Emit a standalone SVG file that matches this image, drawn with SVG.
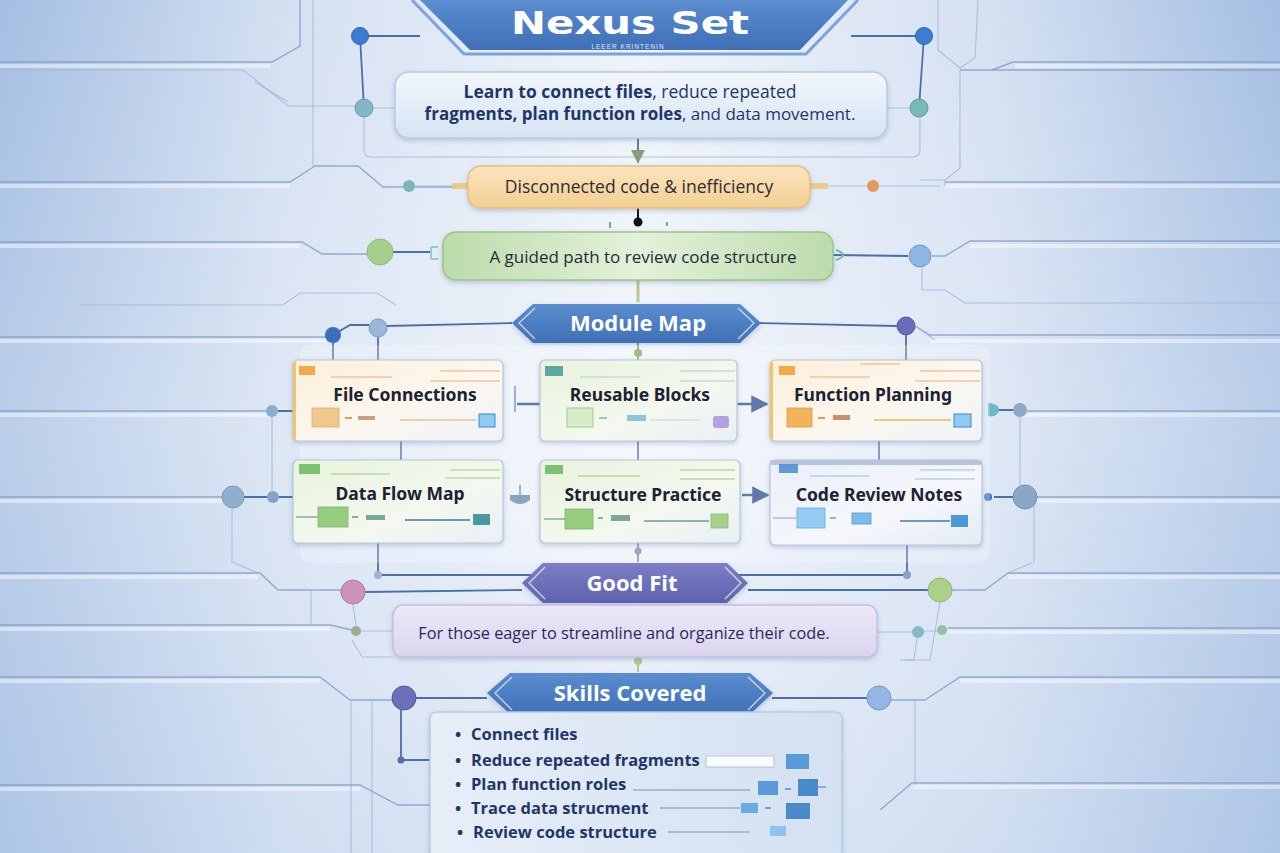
<svg xmlns="http://www.w3.org/2000/svg" width="1280" height="853" viewBox="0 0 1280 853">
<defs>
  <linearGradient id="bg" x1="0" y1="0" x2="1" y2="0">
    <stop offset="0" stop-color="#a4bee2"/>
    <stop offset="0.22" stop-color="#d4e0f1"/>
    <stop offset="0.5" stop-color="#eef3fa"/>
    <stop offset="0.78" stop-color="#d4e0f1"/>
    <stop offset="1" stop-color="#a4bee2"/>
  </linearGradient>
  <linearGradient id="bgv" x1="0" y1="0" x2="0" y2="1">
    <stop offset="0" stop-color="#ffffff" stop-opacity="0"/>
    <stop offset="0.5" stop-color="#ffffff" stop-opacity="0.25"/>
    <stop offset="1" stop-color="#c5d6ee" stop-opacity="0.3"/>
  </linearGradient>
  <linearGradient id="blueBan" x1="0" y1="0" x2="0" y2="1">
    <stop offset="0" stop-color="#5b8dd0"/>
    <stop offset="1" stop-color="#3f6fb6"/>
  </linearGradient>
  <linearGradient id="purpBan" x1="0" y1="0" x2="0" y2="1">
    <stop offset="0" stop-color="#7c7fc6"/>
    <stop offset="1" stop-color="#5e62ad"/>
  </linearGradient>
  <linearGradient id="introG" x1="0" y1="0" x2="0" y2="1">
    <stop offset="0" stop-color="#f2f7fc"/>
    <stop offset="1" stop-color="#d5e4f3"/>
  </linearGradient>
  <linearGradient id="orangeG" x1="0" y1="0" x2="0" y2="1">
    <stop offset="0" stop-color="#fbe4bd"/>
    <stop offset="1" stop-color="#f3cf93"/>
  </linearGradient>
  <linearGradient id="greenG" x1="0" y1="0" x2="1" y2="0">
    <stop offset="0" stop-color="#bcdcab"/>
    <stop offset="0.5" stop-color="#e3f1d9"/>
    <stop offset="1" stop-color="#bcdcab"/>
  </linearGradient>
  <linearGradient id="purpG" x1="0" y1="0" x2="0" y2="1">
    <stop offset="0" stop-color="#ece8f7"/>
    <stop offset="1" stop-color="#dbd5ee"/>
  </linearGradient>
  <linearGradient id="skillG" x1="0" y1="0" x2="1" y2="0">
    <stop offset="0" stop-color="#e6eef8"/>
    <stop offset="1" stop-color="#d3e1f1"/>
  </linearGradient>
  <linearGradient id="cardO" x1="0" y1="0" x2="1" y2="1">
    <stop offset="0" stop-color="#fdf0da"/>
    <stop offset="0.6" stop-color="#fbf7f0"/>
    <stop offset="1" stop-color="#eef2f8"/>
  </linearGradient>
  <linearGradient id="cardG" x1="0" y1="0" x2="1" y2="1">
    <stop offset="0" stop-color="#e8f3dc"/>
    <stop offset="0.6" stop-color="#f4f8ef"/>
    <stop offset="1" stop-color="#e9f0f6"/>
  </linearGradient>
  <linearGradient id="cardB" x1="0" y1="0" x2="1" y2="1">
    <stop offset="0" stop-color="#e9eff9"/>
    <stop offset="0.6" stop-color="#f5f7fb"/>
    <stop offset="1" stop-color="#e4ebf5"/>
  </linearGradient>
  <filter id="sh" x="-10%" y="-20%" width="120%" height="150%">
    <feDropShadow dx="0" dy="2" stdDeviation="2.5" flood-color="#4a6a9a" flood-opacity="0.3"/>
  </filter>
  <marker id="arr" viewBox="0 0 10 10" refX="9" refY="5" markerWidth="7" markerHeight="7" orient="auto">
    <path d="M0,0 L10,5 L0,10 Z" fill="#2a4e8a"/>
  </marker>
</defs>
<style>
  .circ { fill: none; stroke: #7f9bc6; stroke-width: 1.4; opacity: 0.8; }
  .circL { fill: none; stroke: #9fb6d8; stroke-width: 1.1; opacity: 0.8; }
  .hl { fill: none; stroke: #ffffff; stroke-width: 4; opacity: 0.45; }
  .conn { fill: none; stroke: #4d6fa8; stroke-width: 1.8; }
  .connD { fill: none; stroke: #2a4e8a; stroke-width: 2.5; }
  .banTxt { font-family: "Open Sans", "Noto Sans", sans-serif; font-weight: 700; fill: #ffffff; text-anchor: middle; }
  .body { font-family: "Open Sans", "Noto Sans", sans-serif; fill: #1f3668; text-anchor: middle; }
  .cardT { font-family: "Noto Sans", "Open Sans", sans-serif; font-weight: 700; font-size: 17.5px; fill: #1a2233; text-anchor: middle; }
  .skill { font-family: "Open Sans", "Noto Sans", sans-serif; font-weight: 700; font-size: 16.5px; fill: #1f3668; }
  .card { stroke: #b7c6da; stroke-width: 1.2; }
  .inner { fill: none; stroke: #ffffff; stroke-width: 1.3; opacity: 0.7; }
</style>

<!-- background -->
<rect x="0" y="0" width="1280" height="853" fill="url(#bg)"/>
<rect x="0" y="0" width="1280" height="853" fill="url(#bgv)"/>

<g id="background-circuit">
  <!-- left -->
  <path class="hl" d="M0,66 L270,66 M0,186 L290,186 M0,246 L300,246 M0,341 L326,341 M0,415 L270,415 M0,501 L230,501 M0,577 L258,577 M0,629 L330,629 M0,681 L320,681 M0,789 L360,789"/>
  <path class="circ" d="M0,62 L272,62 L300,46 L300,0"/>
  <path class="circL" d="M0,70 L243,70 L288,106 L362,106"/>
  <path class="circL" d="M255,82 L288,102"/>
  <path class="circ" d="M0,182 L290,182 L315,166 L358,166 L383,187 L466,187"/>
  <path class="circL" d="M313,0 L313,166"/>
  <path class="circ" d="M0,242 L302,242 L322,254 L368,254"/>
  <path class="circL" d="M80,305 L283,305 L300,293 L377,293 L396,305"/>
  <path class="circ" d="M0,337 L327,337"/>
  <path class="circ" d="M0,411 L272,411"/>
  <path class="circ" d="M0,497 L225,497"/>
  <path class="circ" d="M0,573 L260,573 L278,590 L342,590"/>
  <path class="circL" d="M232,497 L232,562 L258,573"/>
  <path class="circ" d="M0,625 L330,625 L356,631"/>
  <path class="circL" d="M311,590 L311,625"/>
  <path class="circ" d="M0,677 L320,677 L350,700 L392,700"/>
  <path class="circL" d="M351,700 L351,853 M372,700 L372,853"/>
  <path class="circ" d="M0,785 L360,785 L398,805 L430,805"/>
  <path class="circL" d="M333,345 L333,360 M272,411 L272,497"/>
  <!-- right -->
  <path class="hl" d="M1015,66 L1280,66 M945,186 L1280,186 M970,246 L1280,246 M930,341 L1280,341 M1020,415 L1280,415 M1025,501 L1280,501 M1008,577 L1280,577 M948,632 L1280,632 M960,681 L1280,681 M913,787 L1280,787"/>
  <path class="circL" d="M938,0 L938,50 L960,68 L975,58 L978,0"/>
  <path class="circ" d="M992,70 L1013,62 L1280,62"/>
  <path class="circ" d="M960,70 L1280,70"/>
  <path class="circL" d="M960,70 L960,168 L945,180"/>
  <path class="circ" d="M945,182 L1280,182"/>
  <path class="circL" d="M920,180 L945,180 L945,186"/>
  <path class="circ" d="M932,256 L945,256 L970,241 L1280,241"/>
  <path class="circL" d="M922,268 L922,290 L945,290 L965,303 L1280,303"/>
  <path class="circ" d="M915,326 L930,335 L1280,335"/>
  <path class="circ" d="M1027,411 L1280,411"/>
  <path class="circ" d="M1037,497 L1280,497"/>
  <path class="circL" d="M1020,411 L1020,485 M1034,505 L1034,562 L1008,573"/>
  <path class="circ" d="M952,590 L985,590 L1008,573 L1280,573"/>
  <path class="circ" d="M948,628 L1280,628"/>
  <path class="circL" d="M918,632 L914,660 L900,660"/>
  <path class="circ" d="M891,700 L925,700 L960,677 L1280,677"/>
  <path class="circL" d="M915,700 L915,785"/>
  <path class="circ" d="M880,810 L912,783 L1280,783"/>
</g>

<g id="connectors">
  <!-- title frame -->
  <path class="conn" d="M360,36 L420,36 M851,36 L924,36"/>
  <path class="conn" d="M360,36 L364,108 M924,36 L919,108"/>
  <path class="circL" d="M364,108 L395,108 M887,108 L919,108"/>
  <path class="circL" d="M364,117 L364,150 Q364,157 372,157 L912,157 Q920,157 920,150 L920,117"/>
  <!-- intro -> orange -->
  <path class="conn" d="M638,138 L638,156"/>
  <path d="M631,150 L645,150 L638,164 Z" fill="#8a9a7a"/>
  <!-- orange side -->
  <path class="circL" d="M415,186 L452,186 M828,186 L867,186 M879,186 L940,186"/>
  <rect x="452" y="183" width="16" height="6" fill="#efc98a"/>
  <rect x="810" y="183" width="18" height="6" fill="#efc98a"/>
  <!-- orange -> green -->
  <path d="M638,208 L638,220" stroke="#111" stroke-width="2"/>
  <circle cx="638" cy="222" r="4.5" fill="#111"/>
  <path d="M610,222 L610,228 M667,222 L667,226" stroke="#6ab85a" stroke-width="2"/>
  <!-- green sides -->
  <path class="conn" d="M393,252 L430,252 M833,255 L908,256"/>
  <path d="M431,247 L438,247 M431,259 L438,259 M431,247 L431,259" stroke="#8fd0c0" stroke-width="2" fill="none"/>
  <path d="M836,250 Q850,255 836,260" stroke="#6ac0a0" stroke-width="2" fill="none"/>
  <!-- green -> module map -->
  <path d="M638,280 L638,302" stroke="#b8c890" stroke-width="3"/>
  <!-- module map row lines -->
  <path class="conn" d="M333,335 L350,325 L369,325 M387,326 L512,323 M760,323 L897,326"/>
  <path class="conn" d="M333,335 L333,360 M378,337 L378,360 M906,335 L906,360"/>
  <path class="circL" d="M915,326 L935,340"/>
  <path d="M638,343 L638,360" stroke="#7aaa5a" stroke-width="2"/>
  <circle cx="638" cy="353" r="4" fill="#7aaa5a"/>
  <!-- card arrows -->
  <path class="connD" d="M517,404 L540,404"/>
  <path d="M515,386 L515,412" stroke="#5a7aaa" stroke-width="1.5"/>
  <path class="connD" d="M737,404 L767,404" marker-end="url(#arr)"/>
  <path class="connD" d="M742,495 L768,495" marker-end="url(#arr)"/>
  <path d="M510,495 L530,495 L530,500 Q520,508 510,500 Z" fill="#5f88b0"/>
  <path d="M520,485 L520,495" stroke="#5a7aaa" stroke-width="1.5"/>
  <!-- vertical links between rows -->
  <path class="conn" d="M401,441 L401,460 M638,441 L638,460 M879,441 L879,460"/>
  <!-- side connectors -->
  <path class="conn" d="M278,411 L293,411 M244,497 L267,497 M279,497 L293,497"/>
  <path class="conn" d="M998,410 L1013,410 M994,497 L1013,497"/>
  <path d="M988,403 Q1000,404 999,411 Q996,418 988,416" fill="#6ab6cc"/>
  <circle cx="988" cy="497" r="4" fill="#3a7ac0"/>
  <!-- bottom bus -->
  <path class="conn" d="M378,543 L378,575 L907,575 L907,545"/>
  <path d="M638,543 L638,562" stroke="#7a8aa8" stroke-width="2"/>
  <circle cx="638" cy="551" r="3.5" fill="#7a8aa8"/>
  <!-- good fit line -->
  <path class="conn" d="M365,592 L522,590 M748,590 L928,590"/>
  <path class="circL" d="M353,604 L356,626 M940,602 L930,660 L905,660"/>
  <path class="circL" d="M361,631 L393,631 M877,632 L912,632 M924,631 L937,631"/>
  <path class="circL" d="M352,640 L362,657 L393,657"/>
  <circle cx="638" cy="661" r="4" fill="#b8c890"/>
  <path d="M638,657 L638,672" stroke="#b8c890" stroke-width="2"/>
  <!-- skills line -->
  <path class="conn" d="M416,698 L487,698 M772,698 L867,698"/>
  <path class="conn" d="M401,710 L401,760 L430,760"/>
  <circle cx="401" cy="760" r="3.5" fill="#5a6ab0"/>
</g>

<!-- title -->
<g id="title">
  <path d="M412,0 L464,54 L806,54 L858,0" fill="none" stroke="#7aa4dc" stroke-width="3"/>
  <path d="M420,0 L470,50 L800,50 L848,0 Z" fill="url(#blueBan)"/>
  <text class="banTxt" x="630" y="34" font-size="32" textLength="238" lengthAdjust="spacingAndGlyphs" style="font-family:'DejaVu Sans',sans-serif">Nexus Set</text>
  <text x="628" y="48.5" font-family="Liberation Sans, sans-serif" font-size="6.5" fill="#dfe8f6" letter-spacing="1" text-anchor="middle">LEEER  KRINTENIN</text>
</g>
<circle cx="360" cy="36" r="8.5" fill="#3b7dd0" stroke="#2a64b0" stroke-width="1"/>
<circle cx="924" cy="36" r="8.5" fill="#3b7dd0" stroke="#2a64b0" stroke-width="1"/>
<circle cx="364" cy="108" r="9" fill="#86b6c6" stroke="#6a9cb0" stroke-width="1"/>
<circle cx="919" cy="108" r="9" fill="#78b8b6" stroke="#5a9ca0" stroke-width="1"/>

<!-- intro -->
<g id="intro">
  <rect x="395" y="72" width="492" height="66" rx="14" fill="url(#introG)" stroke="#b7cbe2" stroke-width="1.5" filter="url(#sh)"/>
  <text class="body" x="630" y="98" font-size="17.5"><tspan font-weight="700">Learn to connect files</tspan>, reduce repeated</text>
  <text class="body" x="640" y="120" font-size="17"><tspan font-weight="700">fragments, plan function roles</tspan>, and data movement.</text>
</g>

<!-- problem -->
<g id="problem">
  <rect x="468" y="166" width="342" height="42" rx="13" fill="url(#orangeG)" stroke="#e9bf7c" stroke-width="1.5" filter="url(#sh)"/>
  <text x="639" y="193" font-family="Open Sans, Noto Sans, sans-serif" font-size="17.5" fill="#2c2c34" text-anchor="middle">Disconnected code &amp; inefficiency</text>
</g>
<circle cx="409" cy="186" r="6" fill="#7ab8b8"/>
<circle cx="873" cy="186" r="6" fill="#e09a5c"/>

<!-- solution -->
<g id="solution">
  <rect x="443" y="232" width="390" height="48" rx="13" fill="url(#greenG)" stroke="#9cc58a" stroke-width="1.5" filter="url(#sh)"/>
  <text x="643" y="263" font-family="Open Sans, Noto Sans, sans-serif" font-size="17" fill="#1e2a3a" text-anchor="middle">A guided path to review code structure</text>
</g>
<circle cx="380" cy="252" r="13" fill="#a6cf8c" stroke="#8cb874" stroke-width="1"/>
<circle cx="920" cy="256" r="11" fill="#8fb6e2" stroke="#6f98c8" stroke-width="1"/>

<!-- module map banner -->
<g id="module-map">
  <path d="M512,323 L533,304 L740,304 L761,323 L740,343 L533,343 Z" fill="url(#blueBan)" filter="url(#sh)"/>
  <path d="M535,308 L519,323 L535,339 M738,308 L754,323 L738,339" class="inner"/>
  <text class="banTxt" x="638" y="331" font-size="22">Module Map</text>
</g>
<circle cx="333" cy="335" r="8" fill="#3a6fc0"/>
<circle cx="378" cy="328" r="9" fill="#9ab6d8" stroke="#7a98c0" stroke-width="1"/>
<circle cx="906" cy="326" r="9" fill="#6a6eb8" stroke="#5458a0" stroke-width="1"/>

<!-- module panel -->
<rect x="300" y="345" width="690" height="218" rx="10" fill="#ffffff" opacity="0.25"/>

<!-- cards -->
<g id="card-file-connections">
  <rect class="card" x="293" y="360" width="210" height="81" rx="5" fill="url(#cardO)" filter="url(#sh)"/>
  <rect x="293" y="362" width="3" height="77" fill="#f2c46c"/>
  <rect x="299" y="366" width="16" height="9" fill="#f0a848"/>
  <path d="M331,377 L392,377 M440,371 L500,371 M430,381 L500,381" stroke="#e4b078" stroke-width="1.2"/>
  <text class="cardT" x="405" y="401">File Connections</text>
  <rect x="312" y="408" width="27" height="19" fill="#f1c98e" stroke="#e0b070" stroke-width="0.8"/>
  <path d="M345,418 L352,418" stroke="#d8a060" stroke-width="2"/>
  <rect x="358" y="416" width="17" height="4" fill="#c9a080"/>
  <path d="M400,420 L476,420" stroke="#d8c4a8" stroke-width="1.5"/>
  <rect x="479" y="414" width="16" height="13" fill="#8fcaf2" stroke="#3a8ad0" stroke-width="1"/>
</g>
<g id="card-reusable-blocks">
  <rect class="card" x="540" y="360" width="197" height="81" rx="5" fill="url(#cardG)" filter="url(#sh)"/>
  <rect x="545" y="366" width="18" height="10" fill="#5aa8a0"/>
  <path d="M580,377 L640,377 M680,371 L735,371 M680,381 L735,381" stroke="#b8c8d0" stroke-width="1.2"/>
  <text class="cardT" x="640" y="401">Reusable Blocks</text>
  <rect x="567" y="408" width="26" height="19" fill="#d6ecca" stroke="#9ccc8a" stroke-width="1"/>
  <path d="M599,418 L607,418" stroke="#8ab0a0" stroke-width="1.5"/>
  <rect x="627" y="415" width="19" height="6" fill="#8cc8e0"/>
  <path d="M650,420 L700,420" stroke="#c8d4dc" stroke-width="1.2"/>
  <rect x="713" y="416" width="16" height="12" rx="3" fill="#b6a0e0"/>
</g>
<g id="card-function-planning">
  <rect class="card" x="770" y="360" width="212" height="81" rx="5" fill="url(#cardO)" filter="url(#sh)"/>
  <rect x="770" y="362" width="3" height="77" fill="#f2c46c"/>
  <rect x="779" y="366" width="16" height="9" fill="#f0a848"/>
  <path d="M810,377 L870,377 M920,371 L980,371 M915,381 L980,381 M860,364 L900,364" stroke="#e4b078" stroke-width="1.2"/>
  <text class="cardT" x="873" y="401">Function Planning</text>
  <rect x="787" y="408" width="25" height="19" fill="#f1b45a" stroke="#e09a40" stroke-width="0.8"/>
  <path d="M818,418 L825,418" stroke="#d8a060" stroke-width="2"/>
  <rect x="833" y="415" width="17" height="5" fill="#c9906a"/>
  <path d="M874,420 L951,420" stroke="#e6cc80" stroke-width="2"/>
  <rect x="954" y="414" width="17" height="13" fill="#8fcaf2" stroke="#3a8ad0" stroke-width="1"/>
</g>
<g id="card-data-flow-map">
  <rect class="card" x="293" y="460" width="210" height="83" rx="5" fill="url(#cardG)" filter="url(#sh)"/>
  <rect x="299" y="464" width="21" height="10" fill="#6ab85a" opacity="0.85"/>
  <path d="M331,474 L390,474 M450,470 L500,470 M445,478 L500,478" stroke="#9ccc7a" stroke-width="1.2"/>
  <text class="cardT" x="400" y="500">Data Flow Map</text>
  <path d="M296,517 L318,517" stroke="#6a9a8a" stroke-width="1.2"/>
  <rect x="318" y="507" width="30" height="20" fill="#98cc80" stroke="#7ab86a" stroke-width="0.8"/>
  <path d="M352,517 L358,517" stroke="#6a9a8a" stroke-width="1.5"/>
  <rect x="366" y="515" width="19" height="5" fill="#7aa890"/>
  <path d="M405,520 L470,520" stroke="#4a7a9a" stroke-width="1.6"/>
  <rect x="473" y="514" width="17" height="11" fill="#4a98a0"/>
</g>
<g id="card-structure-practice">
  <rect class="card" x="540" y="460" width="200" height="83" rx="5" fill="url(#cardG)" filter="url(#sh)"/>
  <rect x="545" y="465" width="18" height="9" fill="#6ab85a" opacity="0.85"/>
  <path d="M578,476 L640,476 M680,470 L735,470 M680,479 L735,479" stroke="#9ccc7a" stroke-width="1.2"/>
  <text class="cardT" x="643" y="501">Structure Practice</text>
  <path d="M544,519 L565,519" stroke="#6a9a8a" stroke-width="1.2"/>
  <rect x="565" y="509" width="28" height="20" fill="#98cc80" stroke="#7ab86a" stroke-width="0.8"/>
  <path d="M598,518 L603,518" stroke="#6a9a8a" stroke-width="1.5"/>
  <rect x="611" y="515" width="19" height="6" fill="#7aa890"/>
  <path d="M644,521 L709,521" stroke="#6a9a9a" stroke-width="1.5"/>
  <rect x="711" y="514" width="17" height="14" fill="#a8d08c" stroke="#88b870" stroke-width="0.8"/>
</g>
<g id="card-code-review-notes">
  <rect class="card" x="770" y="460" width="212" height="85" rx="5" fill="url(#cardB)" filter="url(#sh)"/>
  <rect x="770" y="460" width="212" height="5" rx="3" fill="#b8c4dc"/>
  <rect x="779" y="464" width="19" height="9" fill="#4a8ad0" opacity="0.85"/>
  <path d="M810,476 L870,476 M920,470 L975,470 M915,479 L975,479" stroke="#9ac0e0" stroke-width="1.2"/>
  <text class="cardT" x="879" y="501">Code Review Notes</text>
  <path d="M773,518 L797,518" stroke="#9ab0c8" stroke-width="1.2"/>
  <rect x="797" y="508" width="28" height="20" fill="#94ccf4" stroke="#6aaae0" stroke-width="0.8"/>
  <path d="M830,518 L836,518" stroke="#7a9ab8" stroke-width="1.5"/>
  <rect x="852" y="513" width="19" height="11" fill="#7cbcec" stroke="#4a9ad8" stroke-width="0.8"/>
  <path d="M900,521 L950,521" stroke="#4a7aaa" stroke-width="1.6"/>
  <rect x="951" y="515" width="17" height="12" fill="#4a98d8"/>
</g>

<!-- side nodes of module map -->
<circle cx="272" cy="411" r="6" fill="#8aaed0"/>
<circle cx="233" cy="497" r="11" fill="#8eb0cc" stroke="#7a9cbc" stroke-width="1"/>
<circle cx="273" cy="497" r="6" fill="#7fa4c8"/>
<circle cx="1020" cy="410" r="7" fill="#8ea8c6"/>
<circle cx="1025" cy="497" r="12" fill="#8aa8c6" stroke="#7090b4" stroke-width="1"/>
<circle cx="378" cy="575" r="4" fill="#a8b0d8"/>
<circle cx="907" cy="575" r="4" fill="#8aa0c8"/>

<!-- good fit banner -->
<g id="good-fit">
  <path d="M522,583 L543,563 L727,563 L748,583 L727,603 L543,603 Z" fill="url(#purpBan)" filter="url(#sh)"/>
  <path d="M545,567 L529,583 L545,599 M725,567 L741,583 L725,599" class="inner"/>
  <text class="banTxt" x="632" y="591" font-size="22">Good Fit</text>
</g>
<circle cx="353" cy="592" r="12" fill="#cc92bc" stroke="#b078a2" stroke-width="1"/>
<circle cx="940" cy="590" r="12" fill="#aad08a" stroke="#90b870" stroke-width="1"/>

<!-- audience -->
<g id="audience">
  <rect x="393" y="605" width="484" height="52" rx="10" fill="url(#purpG)" stroke="#c6bfe0" stroke-width="1.5" filter="url(#sh)"/>
  <text x="624" y="639" font-family="Open Sans, Noto Sans, sans-serif" font-size="16.3" fill="#262a58" text-anchor="middle">For those eager to streamline and organize their code.</text>
</g>
<circle cx="356" cy="631" r="5" fill="#a2aa90"/>
<circle cx="918" cy="632" r="6" fill="#82bac8"/>
<circle cx="942" cy="630" r="5" fill="#92c0a2"/>

<!-- skills banner -->
<g id="skills-covered">
  <path d="M487,693 L510,673 L750,673 L773,693 L750,714 L510,714 Z" fill="url(#blueBan)" filter="url(#sh)"/>
  <path d="M512,677 L495,693 L512,710 M748,677 L765,693 L748,710" class="inner"/>
  <text class="banTxt" x="630" y="701" font-size="22">Skills Covered</text>
</g>
<circle cx="404" cy="698" r="12" fill="#6a6fba" stroke="#5558a2" stroke-width="1"/>
<circle cx="879" cy="698" r="12" fill="#94b6e2" stroke="#7498cc" stroke-width="1"/>

<!-- skills box -->
<g id="skills-list">
  <rect x="430" y="712" width="412" height="150" rx="6" fill="url(#skillG)" stroke="#b8cce0" stroke-width="1.5" filter="url(#sh)"/>
  <text class="skill" x="455" y="740">•</text><text class="skill" x="471" y="740">Connect files</text>
  <text class="skill" x="455" y="766">•</text><text class="skill" x="471" y="766">Reduce repeated fragments</text>
  <text class="skill" x="455" y="790">•</text><text class="skill" x="471" y="790">Plan function roles</text>
  <text class="skill" x="455" y="814">•</text><text class="skill" x="471" y="814">Trace data strucment</text>
  <text class="skill" x="457" y="838">•</text><text class="skill" x="473" y="838">Review code structure</text>
  <rect x="706" y="756" width="68" height="11" fill="#f8fbff" stroke="#b0bcd0" stroke-width="0.8"/>
  <rect x="786" y="754" width="23" height="15" fill="#5a9ad8"/>
  <path d="M633,790 L750,790" stroke="#7890b0" stroke-width="1.2"/>
  <rect x="758" y="781" width="20" height="14" fill="#5a9ad8"/>
  <path d="M785,789 L791,789" stroke="#5a8ac0" stroke-width="1.5"/>
  <rect x="798" y="779" width="20" height="17" fill="#4a8ac8"/>
  <path d="M818,787 L826,787" stroke="#5a8ac0" stroke-width="1.2"/>
  <path d="M660,808 L740,808" stroke="#7890b0" stroke-width="1.2"/>
  <rect x="741" y="803" width="17" height="10" fill="#6aaae0"/>
  <path d="M765,808 L771,808" stroke="#5a8ac0" stroke-width="1.5"/>
  <rect x="786" y="803" width="24" height="16" fill="#4a8ac8"/>
  <path d="M668,832 L750,832" stroke="#7890b0" stroke-width="1.2"/>
  <rect x="770" y="826" width="16" height="10" fill="#8cc4ee"/>
</g>
</svg>
